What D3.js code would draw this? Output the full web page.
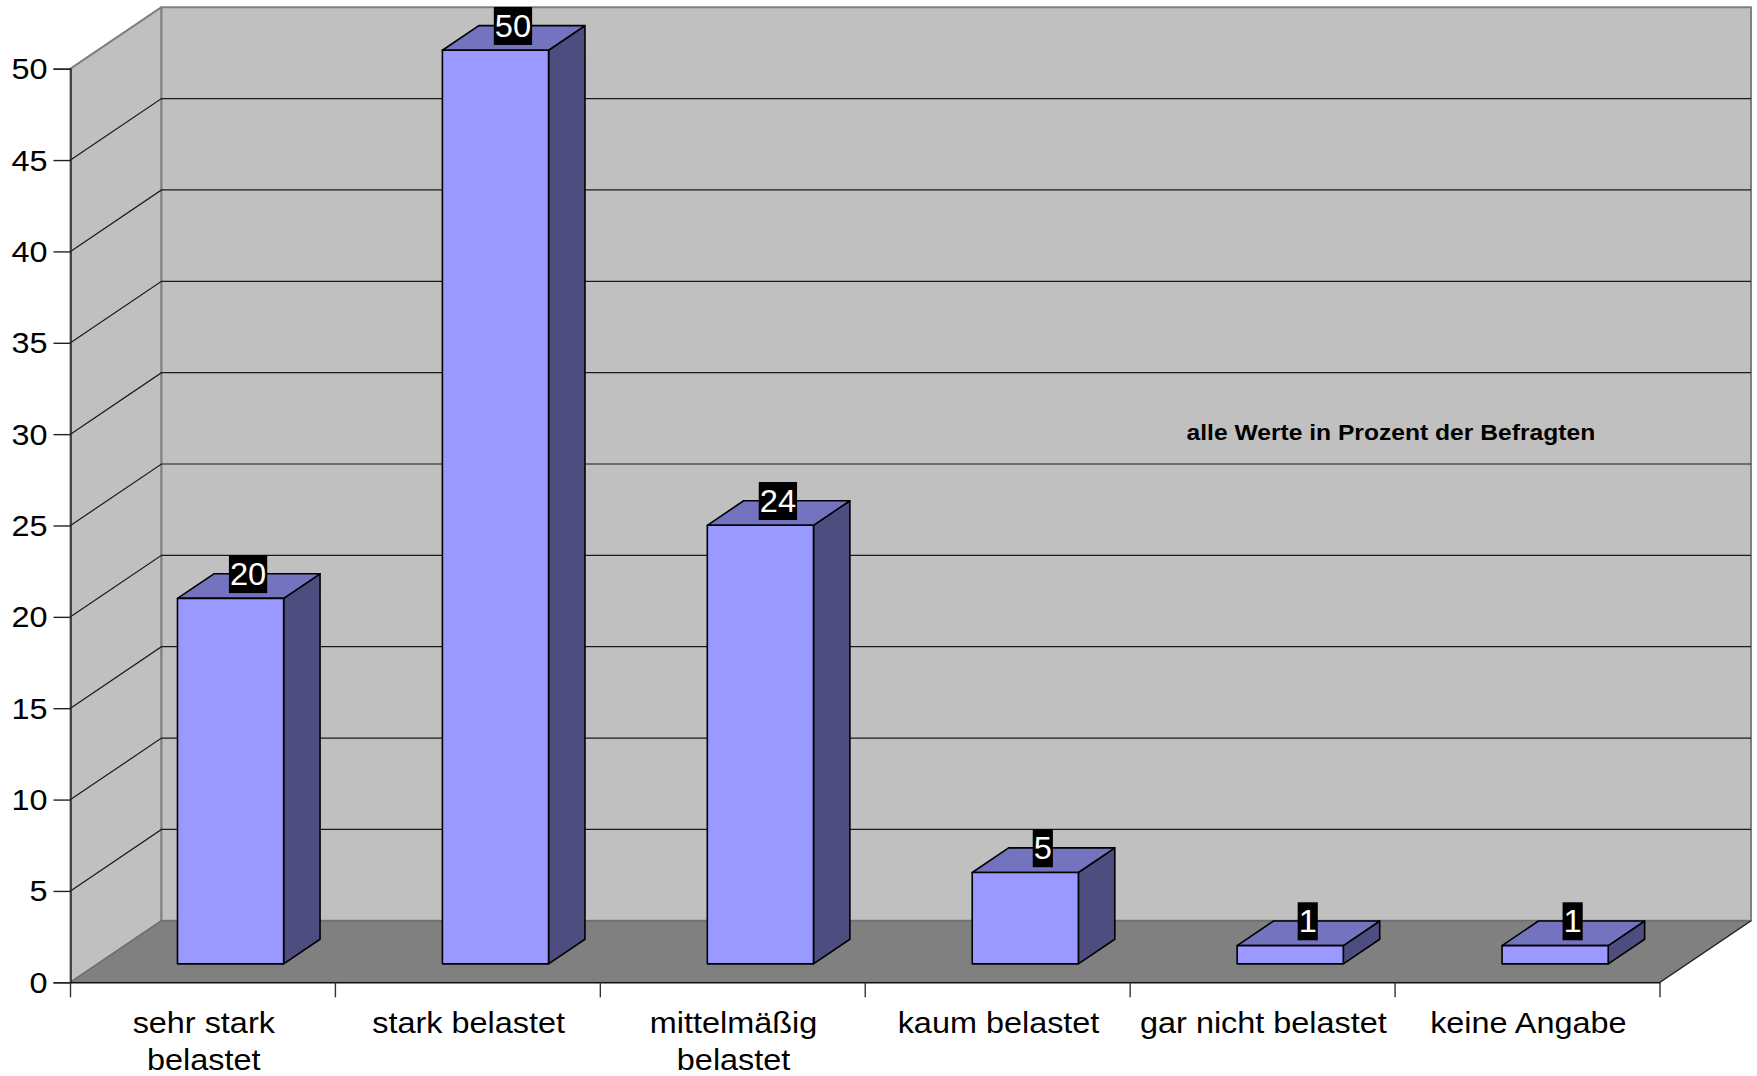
<!DOCTYPE html>
<html><head><meta charset="utf-8">
<script src="https://cdn.jsdelivr.net/npm/d3@7"></script>
<style>
html,body{margin:0;padding:0;background:#fff}
svg{display:block}
text{font-family:"Liberation Sans",Arial,sans-serif;fill:#000}
</style></head><body><svg id="c" width="1757" height="1076"></svg>
<script>
const categories = ["sehr stark belastet","stark belastet","mittelmäßig belastet","kaum belastet","gar nicht belastet","keine Angabe"];
const categoryLines = [["sehr stark","belastet"],["stark belastet"],["mittelmäßig","belastet"],["kaum belastet"],["gar nicht belastet"],["keine Angabe"]];
const values = [20,50,24,5,1,1];
const yTicks = [0,5,10,15,20,25,30,35,40,45,50];
const note = "alle Werte in Prozent der Befragten";

const left=70.5,right=1660,y0=982.3,y50=68.7,depthX=91,depthY=61.5;
const fs=30.5, axisFont=30.3, stretch=1.07;
const svg=d3.select("#c");
const x=d3.scaleBand().domain(categories).range([left,right]).paddingInner(0).paddingOuter(0);
const y=d3.scaleLinear().domain([0,50]).range([y0,y50]);
const p=(px,py,z)=>[px+z*depthX,py-z*depthY];
const poly=(g,pts,fill,stroke,sw)=>g.append("polygon").attr("points",pts.map(d=>d.join(",")).join(" ")).attr("fill",fill).attr("stroke",stroke).attr("stroke-width",sw).attr("stroke-linejoin","round");

// walls and floor
const walls=svg.append("g");
poly(walls,[p(left,y0,0),p(left,y50,0),p(left,y50,1),p(left,y0,1)],"#c0c0c0","#808080",2);
poly(walls,[p(left,y0,1),p(left,y50,1),p(right,y50,1),p(right,y0,1)],"#c0c0c0","#808080",2);
poly(walls,[p(left,y0,0),p(right,y0,0),p(right,y0,1),p(left,y0,1)],"#808080","#6a6a6a",1.2);

// gridlines
const grid=svg.append("g").attr("stroke","#1a1a1a").attr("stroke-width",1.2).attr("fill","none");
yTicks.filter(d=>d>0&&d<50).forEach(t=>{
  const a=p(left,y(t),0),b=p(left,y(t),1),c=p(right,y(t),1);
  grid.append("polyline").attr("points",[a,b,c].map(d=>d.join(",")).join(" "));
});

// bars
const zFront=0.3,zBack=0.7,gapFrac=0.3;
const bars=svg.append("g");
categories.forEach((c,i)=>{
  const v=values[i],b=x.bandwidth();
  const xl=x(c)+gapFrac*b+0.2,xr=x(c)+(1-gapFrac)*b+0.4;
  const g=bars.append("g");
  const A=(px,val,z)=>p(px,y(val),z);
  poly(g,[A(xr,0,zFront),A(xr,v,zFront),A(xr,v,zBack),A(xr,0,zBack)],"#4d4d80","#000",1.6);
  poly(g,[A(xl,v,zFront),A(xr,v,zFront),A(xr,v,zBack),A(xl,v,zBack)],"#7373bf","#000",1.6);
  poly(g,[A(xl,0,zFront),A(xr,0,zFront),A(xr,v,zFront),A(xl,v,zFront)],"#9999ff","#000",1.6);
});

// stretched text helper
function label(g,tx,ty,str,size,anchor,fill,weight,sx){
  return g.append("text").attr("transform",`translate(${tx},${ty}) scale(${sx||stretch},1)`)
   .attr("text-anchor",anchor).attr("font-size",size).attr("font-weight",weight||"normal").style("fill",fill||"#000").text(str);
}

// value labels
const vl=svg.append("g");
categories.forEach((c,i)=>{
  const v=values[i],b=x.bandwidth();
  const cx=x(c)+b/2, top=p(cx,y(v),0.5);
  const cy=top[1]-12;
  const lx=top[0]-0.4;
  const t=label(vl,lx,cy+11,String(v),fs,"middle","#fff");
  const w=t.node().getComputedTextLength()*stretch+2;
  vl.insert("rect","text").attr("x",lx-w/2).attr("y",cy-19).attr("width",w).attr("height",38).attr("fill","#000");
  t.raise();
});

// axes
const yAxis=svg.append("g").attr("transform",`translate(${left},0)`).call(d3.axisLeft(y).tickValues(yTicks).tickSize(17).tickPadding(0).tickFormat(""));
yAxis.selectAll("path,line").attr("stroke","#222").attr("stroke-width",1.4);
const xAxis=svg.append("g").attr("transform",`translate(0,${y0})`).call(d3.axisBottom(x.copy().paddingInner(0)).tickValues([]).tickSizeOuter(0));
xAxis.select("path").attr("stroke","#111").attr("stroke-width",1.6);
const edges=[left,...categories.map((c,i)=>x(c)+x.bandwidth())];
xAxis.selectAll("line.edge").data(edges).join("line").attr("class","edge").attr("x1",d=>d).attr("x2",d=>d).attr("y1",0).attr("y2",15).attr("stroke","#333").attr("stroke-width",1.4);
// right floor edge
{const a=p(right,y0,0),b=p(right,y0,1);svg.append("line").attr("x1",a[0]).attr("y1",a[1]).attr("x2",b[0]).attr("y2",b[1]).attr("stroke","#222").attr("stroke-width",1.2);}

const tl=svg.append("g");
yTicks.forEach(t=>{label(tl,47.5,y(t)+10.5,String(t),axisFont,"end");});
categoryLines.forEach((lines,i)=>{
  const cx=x(categories[i])+x.bandwidth()/2+0.8;
  lines.forEach((s,j)=>label(tl,cx,1033+j*36.5,s,axisFont,"middle"));
});
// note
label(tl,1186.5,439.5,note,22.4,"start","#000","bold",1.1);
</script></body></html>
